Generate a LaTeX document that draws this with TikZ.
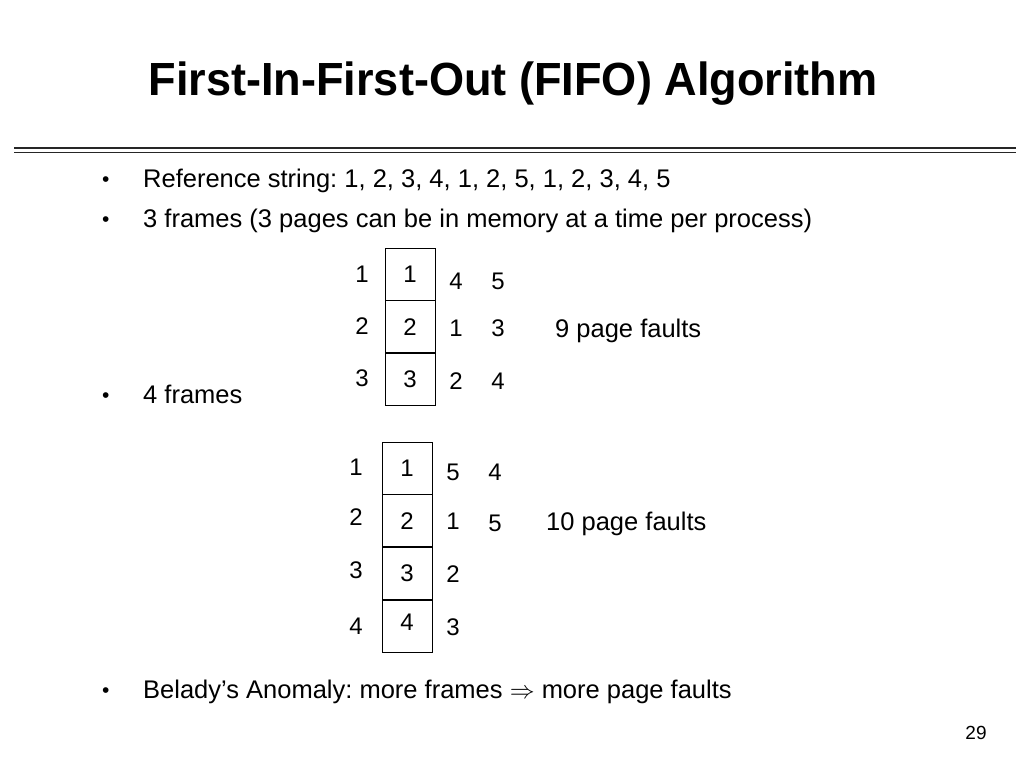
\documentclass[tikz,border=0pt]{standalone}
\usepackage{fontspec}
\setmainfont{Liberation Sans}
\newfontfamily\titlefont[FakeStretch=0.97]{Liberation Sans}
\usepackage{amssymb}
\frenchspacing
\begin{document}
\begin{tikzpicture}[x=1pt,y=-1pt,
  body/.style={inner sep=0pt,anchor=base west,font=\fontsize{25.5}{30}\selectfont},
  bul/.style={inner sep=0pt,anchor=base west,font=\fontsize{21}{25}\selectfont},
  dig/.style={inner sep=0pt,font=\fontsize{24}{28}\selectfont},
  cell/.style={draw,line width=0.8pt,minimum width=50pt,minimum height=52pt,inner sep=0pt,font=\fontsize{24}{28}\selectfont}]
\useasboundingbox (0,0) rectangle (1024,768);
% title
\node[inner sep=0pt,font=\titlefont\fontsize{46.5}{52}\bfseries\selectfont] (title) at (513,84) {First-In-First-Out (FIFO) Algorithm};
\coordinate (rl1) at (14,148); \coordinate (rr1) at (1016,148);
\coordinate (rl2) at (14,152.5); \coordinate (rr2) at (1016,152.5);
\draw[line width=2pt,black!85] (rl1) -- (rr1);
\draw[line width=1.2pt,black!85] (rl2) -- (rr2);
% bullets
\node[bul] (b1) at (102,186) {•};
\node[body] (t1) at (143,187) {Reference string: 1, 2, 3, 4, 1, 2, 5, 1, 2, 3, 4, 5};
\node[bul] (b2) at (102,226) {•};
\node[body] (t2) at (143,227) {3 frames (3 pages can be in memory at a time per process)};
\node[bul] (b3) at (102,402) {•};
\node[body] (t3) at (143,403) {4 frames};
\node[bul] (b4) at (102,697) {•};
\node[body] (t4) at (143,698) {Belady’s Anomaly: more frames $\Rightarrow$ more page faults};
% first table
\node[cell] (a1) at (410,274) {1};
\node[cell,anchor=north] (a2) at (a1.south) {2};
\node[cell,anchor=north] (a3) at (a2.south) {3};
\node[dig] (la1) at (362,274) {1};
\node[dig] (la2) at (362,326) {2};
\node[dig] (la3) at (362,378) {3};
\node[dig] (c11) at (456,281) {4};
\node[dig] (c12) at (456,328) {1};
\node[dig] (c13) at (456,381) {2};
\node[dig] (c21) at (498,281) {5};
\node[dig] (c22) at (498,328) {3};
\node[dig] (c23) at (498,381) {4};
\node[body] (pf9) at (555,337) {9 page faults};
% second table
\node[cell] (d1) at (407,468) {1};
\node[cell,anchor=north] (d2) at (d1.south) {2};
\node[cell,anchor=north] (d3) at (d2.south) {3};
\node[cell,anchor=north] (d4) at (d3.south) {};
\node[dig] (d4t) at (407,622) {4};
\node[dig] (ld1) at (356,467) {1};
\node[dig] (ld2) at (356,517) {2};
\node[dig] (ld3) at (356,570) {3};
\node[dig] (ld4) at (356,626) {4};
\node[dig] (e11) at (453,472) {5};
\node[dig] (e12) at (453,521) {1};
\node[dig] (e13) at (453,574) {2};
\node[dig] (e14) at (453,627) {3};
\node[dig] (e21) at (495,472) {4};
\node[dig] (e22) at (495,523) {5};
\node[body] (pf10) at (546,530) {10 page faults};
% page number
\node[inner sep=0pt,font=\fontsize{19}{22}\selectfont] (pn) at (976,733) {29};
\end{tikzpicture}
\end{document}
